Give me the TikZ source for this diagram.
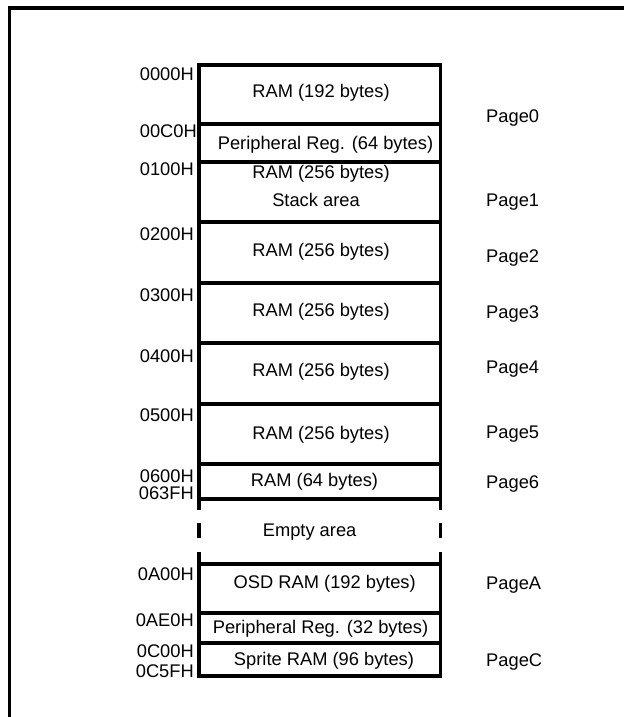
\documentclass[tikz,border=0pt]{standalone}
\usepackage{fontspec}
\setmainfont{Liberation Sans}

\tikzset{
  memline/.style={black, line width=3.2pt},
  addr/.style={anchor=base east, inner sep=0pt},
  areatext/.style={anchor=base, inner sep=0pt},
  pagetext/.style={anchor=base west, inner sep=0pt}
}

\begin{document}
\begin{tikzpicture}[x=1pt, y=-1pt, font=\fontsize{18.3}{20}\selectfont]
  \useasboundingbox (0,0) rectangle (624,717);
  % frame
  \draw [memline]    (9.5,717) -- (9.5,8) -- (624,8);
  % pages 0 to 6
  \draw [memline]    (199,65) rectangle (440.5,499);
  \draw [memline]    (199,124) -- (440.5,124);
  \draw [memline]    (199,162) -- (440.5,162);
  \draw [memline]    (199,222) -- (440.5,222);
  \draw [memline]    (199,283) -- (440.5,283);
  \draw [memline]    (199,343) -- (440.5,343);
  \draw [memline]    (199,404) -- (440.5,404);
  \draw [memline]    (199,464) -- (440.5,464);
  % broken sides of the empty area
  \draw [memline]    (199,499) -- (199,510);
  \draw [memline]    (199,523) -- (199,538);
  \draw [memline]    (199,552) -- (199,564);
  \draw [memline]    (440.5,499) -- (440.5,510);
  \draw [memline]    (440.5,523) -- (440.5,538);
  \draw [memline]    (440.5,552) -- (440.5,564);
  % pages A and C
  \draw [memline]    (199,564) rectangle (440.5,676);
  \draw [memline]    (199,613) -- (440.5,613);
  \draw [memline]    (199,643) -- (440.5,643);

  % addresses
  \node [addr] (a0000) at (194,80)    {0000H};
  \node [addr] (a00C0) at (197,137)   {00C0H};
  \node [addr] (a0100) at (194,175)   {0100H};
  \node [addr] (a0200) at (194,240)   {0200H};
  \node [addr] (a0300) at (194,301)   {0300H};
  \node [addr] (a0400) at (194,362)   {0400H};
  \node [addr] (a0500) at (194,421)   {0500H};
  \node [addr] (a0600) at (194,482.5) {0600H};
  \node [addr] (a063F) at (194,499.5) {063FH};
  \node [addr] (a0A00) at (194,580)   {0A00H};
  \node [addr] (a0AE0) at (194,626)   {0AE0H};
  \node [addr] (a0C00) at (194,657)   {0C00H};
  \node [addr] (a0C5F) at (194,677)   {0C5FH};

  % contents
  \node [areatext] (ram0)   at (321,97.3)    {RAM (192 bytes)};
  \node [areatext] (preg0)  at (325.5,149.3) {Peripheral Reg. (64 bytes)};
  \node [areatext] (ram1)   at (321,178.3)   {RAM (256 bytes)};
  \node [areatext] (stack)  at (316,206.7)   {Stack area};
  \node [areatext] (ram2)   at (321,256)     {RAM (256 bytes)};
  \node [areatext] (ram3)   at (321,316.7)   {RAM (256 bytes)};
  \node [areatext] (ram4)   at (321,376.7)   {RAM (256 bytes)};
  \node [areatext] (ram5)   at (321,439.3)   {RAM (256 bytes)};
  \node [areatext] (ram6)   at (314.5,486)   {RAM (64 bytes)};
  \node [areatext] (empty)  at (309.6,536.7) {Empty area};
  \node [areatext] (osd)    at (324.7,588.3) {OSD RAM (192 bytes)};
  \node [areatext] (pregA)  at (320.5,633.3) {Peripheral Reg. (32 bytes)};
  \node [areatext] (sprite) at (324,665)     {Sprite RAM (96 bytes)};

  % page names
  \node [pagetext] (pg0) at (486,122.7) {Page0};
  \node [pagetext] (pg1) at (486,206.7) {Page1};
  \node [pagetext] (pg2) at (486,262)   {Page2};
  \node [pagetext] (pg3) at (486,318.3) {Page3};
  \node [pagetext] (pg4) at (486,373.3) {Page4};
  \node [pagetext] (pg5) at (486,438.3) {Page5};
  \node [pagetext] (pg6) at (486,488.3) {Page6};
  \node [pagetext] (pgA) at (486,589.3) {PageA};
  \node [pagetext] (pgC) at (486,666)   {PageC};
\end{tikzpicture}
\end{document}
